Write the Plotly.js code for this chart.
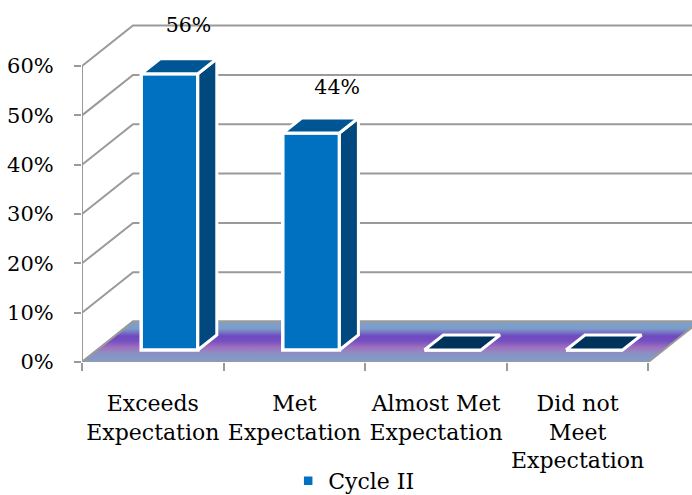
<!DOCTYPE html>
<html>
<head>
<meta charset="utf-8">
<script src="https://cdn.plot.ly/plotly-3.0.1.min.js"></script>
<style>html,body{margin:0;padding:0;background:#fff;overflow:hidden}</style>
</head>
<body>
<div id="chart" style="width:692px;height:495px"></div>
<script>
const categories = ["Exceeds<br>Expectation", "Met<br>Expectation", "Almost Met<br>Expectation", "Did not<br>Meet<br>Expectation"];
const values = [56, 44, 0, 0];
const seriesName = "Cycle II";
const yTicks = [0, 10, 20, 30, 40, 50, 60];
const yTickLabels = ["0%", "10%", "20%", "30%", "40%", "50%", "60%"];

// oblique projection, in axis units
const wall = {dx: 0.36, dy: 8.2};
const bar = {dx: 0.134, dy: 3.04, shiftX: 0.118, base: 2.43, width: 0.4};
const labelDx = [0, 0.05], labelDy = [9.5, 8.9];
const xMax = 610 / 141.6, yMax = 357 / 4.933;
const grey = "#9a9a9a";
const serif = "DejaVu Serif";

const centers = categories.map((c, i) => i + 0.5);
const edges = categories.map((c, i) => i).concat([categories.length]);
const nCat = categories.length;

const gx = [], gy = [];
yTicks.forEach(v => { gx.push(0, wall.dx, xMax + 1, null); gy.push(v, v + wall.dy, v + wall.dy, null); });

function faces(filter, maker) {
  const xs = [], ys = [];
  values.forEach((v, i) => {
    if (!filter(v)) return;
    const l = centers[i] + bar.shiftX - bar.width / 2, r = l + bar.width, t = v + bar.base;
    maker(l, r, t).forEach(p => { xs.push(p[0]); ys.push(p[1]); });
    xs.push(null); ys.push(null);
  });
  return {x: xs, y: ys};
}
const topFace = (l, r, t) => [[l, t], [r, t], [r + bar.dx, t + bar.dy], [l + bar.dx, t + bar.dy], [l, t]];
const sideFace = (l, r, t) => [[r, bar.base], [r + bar.dx, bar.base + bar.dy], [r + bar.dx, t + bar.dy], [r, t], [r, bar.base]];
const topsPos = faces(v => v > 0, topFace);
const sides = faces(v => v > 0, sideFace);
const topsZero = faces(v => v === 0, topFace);

const traces = [
  {type: "scatter", mode: "lines", x: gx, y: gy, line: {color: grey, width: 2}, hoverinfo: "skip", showlegend: false},
  {type: "scatter", mode: "lines", x: [0, nCat, nCat + wall.dx, wall.dx, 0], y: [0, 0, wall.dy, wall.dy, 0], fill: "toself",
   fillgradient: {type: "vertical", colorscale: [[0, "#7d9fc9"], [0.22, "#8c8fc4"], [0.36, "#a070bf"], [0.52, "#7350c0"], [0.64, "#7048c0"], [0.82, "#7c9cc8"], [1, "#7fa0cb"]]},
   line: {color: grey, width: 2}, hoverinfo: "skip", showlegend: false},
  {type: "scatter", mode: "lines", x: [0, 0], y: [0, yTicks[yTicks.length - 1]], line: {color: grey, width: 2}, hoverinfo: "skip", showlegend: false},
  {type: "bar", name: seriesName, x: centers.map(c => c + bar.shiftX), y: values, base: bar.base, width: bar.width, xaxis: "x2", yaxis: "y2",
   marker: {color: "#0070c0", line: {color: "#ffffff", width: 3.5}}, hoverinfo: "skip", showlegend: true},
  {type: "scatter", mode: "lines", x: sides.x, y: sides.y, xaxis: "x2", yaxis: "y2", fill: "toself", fillcolor: "#00487e", line: {color: "#ffffff", width: 3}, hoverinfo: "skip", showlegend: false},
  {type: "scatter", mode: "lines", x: topsPos.x, y: topsPos.y, xaxis: "x2", yaxis: "y2", fill: "toself", fillcolor: "#005594", line: {color: "#ffffff", width: 3}, hoverinfo: "skip", showlegend: false},
  {type: "scatter", mode: "lines", x: topsZero.x, y: topsZero.y, xaxis: "x2", yaxis: "y2", fill: "toself", fillcolor: "#00335c", line: {color: "#ffffff", width: 3}, hoverinfo: "skip", showlegend: false},
  {type: "scatter", mode: "text", x: centers.slice(0, 2).map((c, i) => c + bar.shiftX + bar.dx + labelDx[i]), y: values.slice(0, 2).map((v, i) => v + bar.base + labelDy[i]),
   text: values.slice(0, 2).map(v => v + "%"), textposition: "middle center", cliponaxis: false,
   textfont: {family: serif, size: 20.5, color: "#000"}, xaxis: "x2", yaxis: "y2", hoverinfo: "skip", showlegend: false}
];

const layout = {
  width: 692, height: 495,
  margin: {l: 82, r: 0, t: 5, b: 133, pad: 0, autoexpand: false},
  paper_bgcolor: "#fff", plot_bgcolor: "#fff",
  font: {family: serif, color: "#000", size: 20.5},
  barmode: "overlay",
  xaxis: {range: [0, xMax], tickmode: "array", tickvals: edges, showticklabels: false, ticks: "outside", ticklen: 8, tickwidth: 2, tickcolor: grey, showgrid: false, zeroline: false, showline: false},
  yaxis: {range: [0, yMax], tickmode: "array", tickvals: yTicks, ticktext: yTickLabels, ticks: "outside", ticklen: 7, tickwidth: 2, tickcolor: grey, showgrid: false, zeroline: false, showline: false, ticklabelstandoff: 16, tickfont: {family: serif, size: 21, color: "#000"}},
  xaxis2: {overlaying: "x", anchor: "y2", side: "bottom", range: [0, xMax], tickmode: "array", tickvals: centers, ticktext: categories, ticks: "", showgrid: false, zeroline: false, showline: false, ticklabelstandoff: 26, tickangle: 0, tickfont: {family: serif, size: 22, color: "#000"}},
  yaxis2: {overlaying: "y", anchor: "x2", range: [0, yMax], showticklabels: false, ticks: "", showgrid: false, zeroline: false, showline: false},
  legend: {orientation: "h", x: 0.338, xanchor: "left", y: -0.2745, yanchor: "top", bgcolor: "rgba(0,0,0,0)", font: {family: serif, size: 22, color: "#000"}},
  showlegend: true
};
Plotly.newPlot("chart", traces, layout, {displayModeBar: false, staticPlot: true});
</script>
</body>
</html>
